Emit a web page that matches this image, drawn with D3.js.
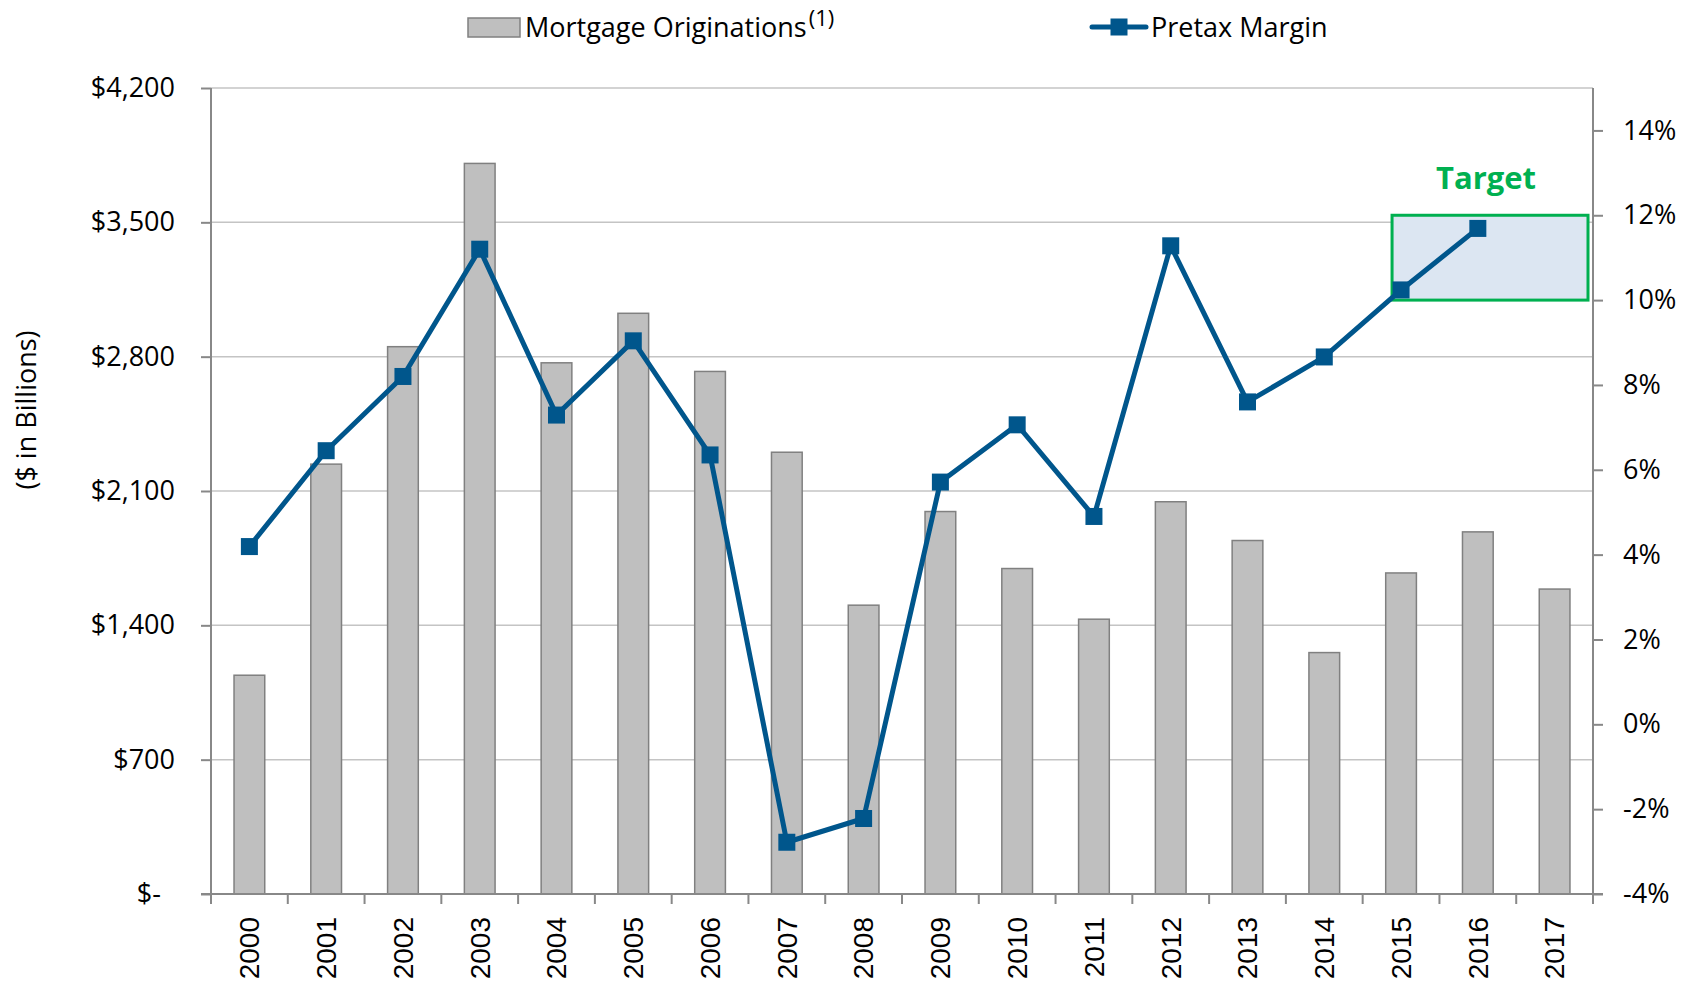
<!DOCTYPE html>
<html lang="en">
<head>
    <meta charset="UTF-8">
    <title>Mortgage Originations vs Pretax Margin</title>
    <script src="https://d3js.org/d3.v7.min.js"></script>
    <style>
        body {
            margin: 0;
            background-color: #fff;
        }
        svg {
            display: block;
            font-family: "Open Sans", Arial, sans-serif;
        }
        .tick-label {
            font-family: "Open Sans", Arial, sans-serif;
            font-size: 27px;
            fill: #000;
        }
        .year-label {
            font-family: "Liberation Sans", Arial, sans-serif;
            font-size: 28px;
            fill: #000;
        }
    </style>
</head>
<body>
    <div id="chart"></div>
    <script>
        const years = ["2000", "2001", "2002", "2003", "2004", "2005", "2006", "2007", "2008",
                       "2009", "2010", "2011", "2012", "2013", "2014", "2015", "2016", "2017"];
        // $ billions
        const originations = [1140, 2240, 2852, 3807, 2768, 3026, 2723, 2302, 1505,
                              1993, 1696, 1432, 2044, 1842, 1258, 1673, 1887, 1589];
        // percent, no value for 2017
        const pretaxMargin = [4.19, 6.45, 8.2, 11.2, 7.29, 9.04, 6.35, -2.78, -2.22,
                              5.71, 7.06, 4.9, 11.28, 7.6, 8.66, 10.24, 11.69, null];
        const leftTicks = [0, 700, 1400, 2100, 2800, 3500, 4200];
        const rightTicks = [-4, -2, 0, 2, 4, 6, 8, 10, 12, 14];
        const targetRange = [10, 12];
        const legendLabels = ["Mortgage Originations", "Pretax Margin"];

        const W = 1690, H = 982;
        const plot = { left: 211, right: 1593, top: 88, bottom: 894 };
        const axisColor = "#888";
        const lineColor = "#00568c";

        const svg = d3.select("#chart")
            .append("svg")
            .attr("width", W)
            .attr("height", H);

        const x = d3.scaleBand()
            .domain(years)
            .range([plot.left, plot.right])
            .padding(0);

        const yL = d3.scaleLinear()
            .domain([0, 4200])
            .range([plot.bottom, plot.top]);

        const yR = d3.scaleLinear()
            .domain([-4, 15])
            .range([plot.bottom, plot.top]);

        // gridlines
        svg.append("g")
            .selectAll("line")
            .data(leftTicks.filter(d => d > 0))
            .enter()
            .append("line")
            .attr("x1", plot.left)
            .attr("x2", plot.right)
            .attr("y1", d => yL(d))
            .attr("y2", d => yL(d))
            .attr("stroke", "#c4c4c4")
            .attr("stroke-width", 1.5);

        // target box
        const bw = x.bandwidth();
        const boxLeft = x("2015") + bw / 2 - 9;
        const boxRight = plot.right - 5;
        svg.append("rect")
            .attr("x", boxLeft)
            .attr("y", yR(targetRange[1]))
            .attr("width", boxRight - boxLeft)
            .attr("height", yR(targetRange[0]) - yR(targetRange[1]))
            .attr("fill", "#dce6f2")
            .attr("stroke", "#00b050")
            .attr("stroke-width", 3);

        svg.append("text")
            .attr("x", (boxLeft + boxRight) / 2 - 4)
            .attr("y", yR(targetRange[1]) - 26)
            .attr("text-anchor", "middle")
            .attr("font-size", 31)
            .attr("font-weight", "bold")
            .attr("fill", "#00b050")
            .text("Target");

        // bars
        const barW = bw * 0.4;
        svg.append("g")
            .selectAll("rect")
            .data(originations)
            .enter()
            .append("rect")
            .attr("x", (d, i) => x(years[i]) + (bw - barW) / 2)
            .attr("y", d => yL(d))
            .attr("width", barW)
            .attr("height", d => yL(0) - yL(d))
            .attr("fill", "#bfbfbf")
            .attr("stroke", "#808080")
            .attr("stroke-width", 1.5);

        // axes
        const leftAxis = svg.append("g")
            .attr("transform", `translate(${plot.left},0)`)
            .call(d3.axisLeft(yL).tickValues(leftTicks).tickSize(10).tickPadding(26)
                .tickFormat(d => d === 0 ? "$-\u00a0\u00a0" : "$" + d3.format(",")(d)));

        const rightAxis = svg.append("g")
            .attr("transform", `translate(${plot.right},0)`)
            .call(d3.axisRight(yR).tickValues(rightTicks).tickSize(10).tickPadding(20)
                .tickFormat(d => d + "%"));

        const bottomAxis = svg.append("g")
            .attr("transform", `translate(0,${plot.bottom})`)
            .call(d3.axisBottom(x).tickSize(0).tickPadding(0));

        [leftAxis, rightAxis, bottomAxis].forEach(g => {
            g.attr("font-family", null).attr("font-size", null);
        });

        [leftAxis, rightAxis].forEach(g => {
            g.select(".domain").attr("stroke", axisColor).attr("stroke-width", 2)
                .attr("d", `M0,${plot.top}V${plot.bottom}`);
            g.selectAll(".tick line").attr("stroke", axisColor).attr("stroke-width", 2);
            g.selectAll(".tick text").attr("class", "tick-label");
        });

        bottomAxis.select(".domain")
            .attr("d", `M${plot.left - 10},0H${plot.right + 10}`)
            .attr("stroke", axisColor)
            .attr("stroke-width", 2);

        // ticks between categories
        bottomAxis.append("g")
            .selectAll("line")
            .data(years.concat(["end"]))
            .enter()
            .append("line")
            .attr("x1", (d, i) => i < years.length ? x(d) : plot.right)
            .attr("x2", (d, i) => i < years.length ? x(d) : plot.right)
            .attr("y1", 0)
            .attr("y2", 10)
            .attr("stroke", axisColor)
            .attr("stroke-width", 2);

        bottomAxis.selectAll(".tick text")
            .attr("class", "year-label")
            .attr("transform", "rotate(-90)")
            .attr("text-anchor", "end")
            .attr("x", -23)
            .attr("y", 0)
            .attr("dy", "0.35em");

        // left axis title
        svg.append("text")
            .attr("transform", "translate(36,410) rotate(-90)")
            .attr("text-anchor", "middle")
            .attr("font-size", 27)
            .attr("fill", "#000")
            .text("($ in Billions)");

        // pretax margin line
        const pts = pretaxMargin.map((v, i) => ({ year: years[i], value: v }));
        const line = d3.line()
            .defined(d => d.value !== null)
            .x(d => x(d.year) + bw / 2)
            .y(d => yR(d.value));

        svg.append("path")
            .datum(pts)
            .attr("d", line)
            .attr("fill", "none")
            .attr("stroke", lineColor)
            .attr("stroke-width", 5)
            .attr("stroke-linejoin", "round");

        const mk = 17;
        svg.append("g")
            .selectAll("rect")
            .data(pts.filter(d => d.value !== null))
            .enter()
            .append("rect")
            .attr("x", d => x(d.year) + bw / 2 - mk / 2)
            .attr("y", d => yR(d.value) - mk / 2)
            .attr("width", mk)
            .attr("height", mk)
            .attr("fill", lineColor);

        // legend
        const legend = svg.append("g");
        legend.append("rect")
            .attr("x", 468)
            .attr("y", 18)
            .attr("width", 52)
            .attr("height", 19)
            .attr("fill", "#bfbfbf")
            .attr("stroke", "#808080")
            .attr("stroke-width", 1.5);

        const t1 = legend.append("text")
            .attr("x", 525)
            .attr("y", 37)
            .attr("font-size", 27)
            .attr("fill", "#000")
            .text(legendLabels[0]);
        t1.append("tspan")
            .attr("dx", 2)
            .attr("dy", -11)
            .attr("font-size", 22)
            .text("(1)");

        legend.append("line")
            .attr("x1", 1092)
            .attr("x2", 1146)
            .attr("y1", 27)
            .attr("y2", 27)
            .attr("stroke", lineColor)
            .attr("stroke-width", 5)
            .attr("stroke-linecap", "round");
        legend.append("rect")
            .attr("x", 1119 - mk / 2)
            .attr("y", 27 - mk / 2)
            .attr("width", mk)
            .attr("height", mk)
            .attr("fill", lineColor);

        legend.append("text")
            .attr("x", 1151)
            .attr("y", 37)
            .attr("font-size", 27)
            .attr("fill", "#000")
            .text(legendLabels[1]);
    </script>
</body>
</html>
